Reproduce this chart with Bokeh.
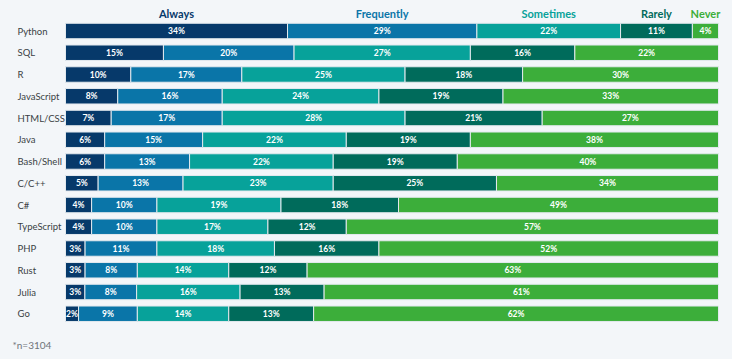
from bokeh.plotting import figure
from bokeh.models import Range1d, ColumnDataSource
from bokeh.core.properties import value
from bokeh.embed import file_html
from bokeh.resources import INLINE

languages = ["Python", "SQL", "R", "JavaScript", "HTML/CSS", "Java", "Bash/Shell",
             "C/C++", "C#", "TypeScript", "PHP", "Rust", "Julia", "Go"]
categories = ["Always", "Frequently", "Sometimes", "Rarely", "Never"]
always     = [34, 15, 10, 8, 7, 6, 6, 5, 4, 4, 3, 3, 3, 2]
frequently = [29, 20, 17, 16, 17, 15, 13, 13, 10, 10, 11, 8, 8, 9]
sometimes  = [22, 27, 25, 24, 28, 22, 22, 23, 19, 17, 18, 14, 16, 14]
rarely     = [11, 16, 18, 19, 21, 19, 19, 25, 18, 12, 16, 12, 13, 13]
never      = [4, 22, 30, 33, 27, 38, 40, 34, 49, 57, 52, 63, 61, 62]
colors = ["#06396a", "#0a75a8", "#07a29a", "#006b5b", "#3cae3a"]
footnote = "*n=3104"

series = [always, frequently, sometimes, rarely, never]

# layout (screen pixel constants)
W, H = 724, 351
PX_PER_UNIT = 6.53
BAR_LEFT = 65          # figure px where 0% starts
ROW_PITCH = 21.75
FIRST_ROW = 30.5       # figure px center of first row

x0 = -BAR_LEFT / PX_PER_UNIT
x1 = (W - BAR_LEFT) / PX_PER_UNIT
ytop = -FIRST_ROW / ROW_PITCH
ybot = (H - FIRST_ROW) / ROW_PITCH

p = figure(width=W, height=H, output_backend="svg", toolbar_location=None,
           x_range=Range1d(x0, x1), y_range=Range1d(ybot, ytop),
           min_border=0, min_border_left=0, min_border_right=0,
           min_border_top=0, min_border_bottom=0)
p.background_fill_color = "#f3f6f9"
p.border_fill_color = "#f3f6f9"
p.outline_line_color = None
p.xaxis.visible = False
p.yaxis.visible = False
p.xgrid.visible = False
p.ygrid.visible = False

n = len(languages)
ys = list(range(n))
totals = [sum(s[i] for s in series) for i in range(n)]
lefts = [0.0] * n
seg_centers = []
for k, s in enumerate(series):
    widths = [s[i] / totals[i] * 100 for i in range(n)]
    rights = [lefts[i] + widths[i] for i in range(n)]
    centers = [(lefts[i] + rights[i]) / 2 for i in range(n)]
    seg_centers.append(centers)
    src = ColumnDataSource(dict(y=ys, left=lefts, right=rights, c=centers,
                                lab=[f"{v}%" for v in s]))
    p.hbar(y="y", left="left", right="right", height=0.71, source=src,
           fill_color=colors[k], line_color="#e3e9ee", line_width=1)
    p.text(x="c", y="y", text="lab", source=src, text_color="white",
           text_font=value("Lato"), text_font_style="bold", text_font_size="8.5px",
           text_align="center", text_baseline="middle")
    lefts = rights

# headers over the first row's segments
hy = (13 - FIRST_ROW) / ROW_PITCH
for k, cat in enumerate(categories):
    p.text(x=[seg_centers[k][0]], y=[hy], text=[cat], text_color=colors[k],
           text_font=value("Lato"), text_font_style="bold", text_font_size="11px",
           text_align="center", text_baseline="middle")

# language labels
p.text(x=[x0 + 17 / PX_PER_UNIT] * n, y=ys, text=languages, text_color="#3a3f44",
       text_font=value("Lato"), text_font_size="9.5px",
       text_align="left", text_baseline="middle")

# footnote
p.text(x=[x0 + 12 / PX_PER_UNIT], y=[(344 - FIRST_ROW) / ROW_PITCH], text=[footnote],
       text_color="#6f7479", text_font=value("Lato"), text_font_size="10px",
       text_align="left", text_baseline="middle")

html = file_html(p, INLINE)
html = html.replace("</head>", "<style>html,body{background-color:#f3f6f9;}</style></head>", 1)
open("out.html", "w").write(html)
